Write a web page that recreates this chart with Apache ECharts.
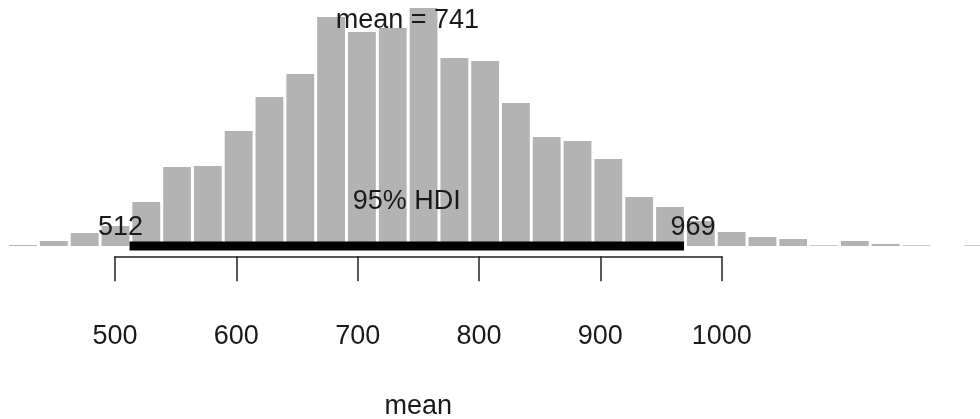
<!DOCTYPE html>
<html>
<head>
<meta charset="utf-8">
<script src="https://cdn.jsdelivr.net/npm/echarts@6/dist/echarts.min.js"></script>
<style>
html,body{margin:0;padding:0;background:#ffffff;}
#chart{width:980px;height:419px;}
</style>
</head>
<body>
<div id="chart"></div>
<script>
// ---- data ----
const binEdges = [411.5, 436.9, 462.3, 487.7, 513.1, 538.5, 563.8, 589.2, 614.6, 640.0,
  665.4, 690.8, 716.2, 741.6, 767.0, 792.4, 817.7, 843.1, 868.5, 893.9, 919.3, 944.7,
  970.1, 995.5, 1020.9, 1046.3, 1071.6, 1097.0, 1122.4, 1147.8, 1173.2, 1198.6, 1224.0];
const binHeights = [1, 5, 13, 20, 44, 79, 80, 115, 149, 172, 229, 214, 218, 238, 188, 185,
  143, 109, 105, 87, 49, 39, 25, 14, 9, 7, 0.7, 5, 2, 0.7, 0, 0.7];
const hdiLimits = [512, 969];
const meanValue = 741;
const tickValues = [500, 600, 700, 800, 900, 1000];
const axisTitle = 'mean';
const meanText = 'mean = 741';
const hdiText = '95% HDI';
const hdiLowText = '512';
const hdiHighText = '969';

// ---- layout / style ----
const FONT = '"Liberation Sans", Arial, Helvetica, sans-serif';
const FS = 27;
const TXT = '#1a1a1a';
const BAR = '#b3b3b3';

const measureCanvas = document.createElement('canvas').getContext('2d');
measureCanvas.font = FS + 'px ' + FONT;
function textW(s) { return measureCanvas.measureText(s).width; }

const histData = binHeights.map((h, i) => [binEdges[i], binEdges[i + 1], h]);

// annotation: [x value, y value (text centre), text, horizontal adj]
const annotations = [
  [meanValue, 225, meanText, 0.5],
  [(hdiLimits[0] + hdiLimits[1]) / 2, 44.5, hdiText, 0.5],
  [hdiLimits[0], 18, hdiLowText, 0.7],
  [hdiLimits[1], 18, hdiHighText, 0.3]
];

const chart = echarts.init(document.getElementById('chart'), null, {renderer: 'canvas'});
chart.setOption({
  animation: false,
  backgroundColor: '#ffffff',
  grid: [
    {left: 0, top: 0, width: 980, height: 246},
    {left: 115, top: 256, width: 606.7, height: 1}
  ],
  xAxis: [
    {gridIndex: 0, type: 'value', min: 405.22, max: 1212.9, show: false},
    {
      gridIndex: 1, type: 'value', min: tickValues[0], max: tickValues[tickValues.length - 1],
      interval: 100, position: 'bottom',
      axisLine: {show: true, lineStyle: {color: '#222', width: 1.5}},
      axisTick: {show: true, length: 25, lineStyle: {color: '#222', width: 1.5}},
      splitLine: {show: false},
      axisLabel: {margin: 67, fontSize: FS, fontFamily: FONT, color: TXT,
        showMinLabel: true, showMaxLabel: true,
        formatter: function (v) { return String(v); }},
      name: axisTitle, nameLocation: 'middle', nameGap: 137,
      nameTextStyle: {fontSize: FS, fontFamily: FONT, color: TXT}
    }
  ],
  yAxis: [
    {gridIndex: 0, type: 'value', min: 0, max: 246, show: false},
    {gridIndex: 1, type: 'value', min: 0, max: 1, show: false}
  ],
  series: [
    {
      type: 'custom', xAxisIndex: 0, yAxisIndex: 0, silent: true,
      data: histData,
      encode: {x: [0, 1], y: 2},
      renderItem: function (params, api) {
        const p0 = api.coord([api.value(0), api.value(2)]);
        const p1 = api.coord([api.value(1), 0]);
        return {
          type: 'rect',
          shape: {x: p0[0] + 1.5, y: p0[1], width: p1[0] - p0[0] - 3, height: p1[1] - p0[1]},
          style: {fill: BAR}
        };
      }
    },
    {
      type: 'custom', xAxisIndex: 0, yAxisIndex: 0, silent: true, clip: false, z: 5,
      data: [[hdiLimits[0], hdiLimits[1]]],
      encode: {x: [0, 1]},
      renderItem: function (params, api) {
        const a = api.coord([api.value(0), 0]);
        const b = api.coord([api.value(1), 0]);
        return {
          type: 'rect',
          shape: {x: a[0], y: a[1] - 4.5, width: b[0] - a[0], height: 9},
          style: {fill: '#000'}
        };
      }
    },
    {
      type: 'custom', xAxisIndex: 0, yAxisIndex: 0, silent: true, z: 10,
      data: annotations.map(a => [a[0], a[1]]),
      encode: {x: 0, y: 1},
      renderItem: function (params, api) {
        const a = annotations[params.dataIndex];
        const p = api.coord([a[0], a[1]]);
        const w = textW(a[2]);
        return {
          type: 'text',
          x: p[0] - a[3] * w, y: p[1],
          style: {text: a[2], fill: TXT, font: FS + 'px ' + FONT,
            align: 'left', verticalAlign: 'middle'}
        };
      }
    }
  ]
});
</script>
</body>
</html>
